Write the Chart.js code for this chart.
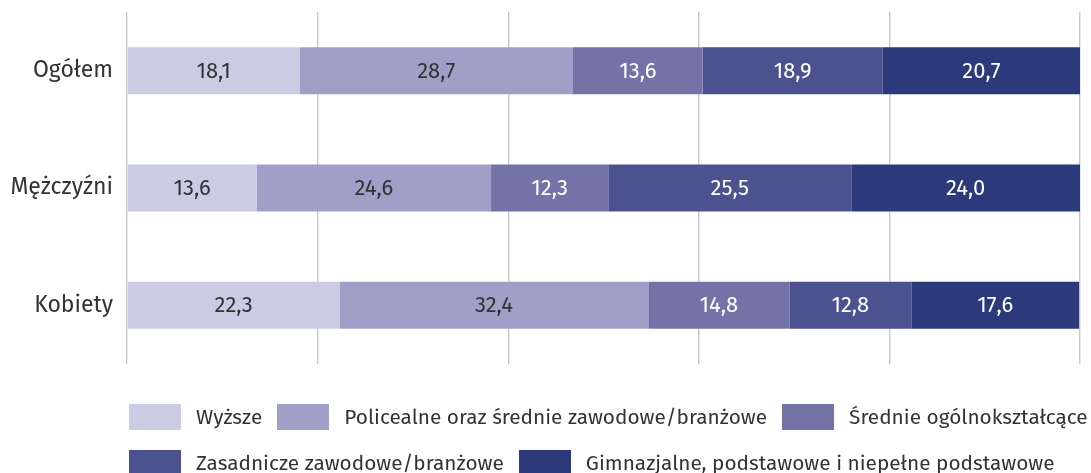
<!DOCTYPE html>
<html>
<head>
<meta charset="utf-8">
<script src="https://cdn.jsdelivr.net/npm/chart.js@4/dist/chart.umd.min.js"></script>
<style>
  html, body { margin: 0; padding: 0; background: #fff; overflow: hidden; }
  #wrap { position: relative; width: 1091px; height: 473px; }
  #legend { position: absolute; left: 129px; top: 404px; font-family: 'Fira Sans', 'Open Sans', sans-serif; font-size: 20.8px; color: #333; }
  .row { display: flex; align-items: center; height: 26px; margin-bottom: 20px; white-space: nowrap; }
  .item { display: flex; align-items: center; margin-right: 15px; }
  .box { width: 52px; height: 26px; margin-right: 15px; }
</style>
</head>
<body>
<div id="wrap">
  <canvas id="c" width="1091" height="473"></canvas>
  <div id="legend"></div>
</div>
<script>
const categories = ['Ogółem', 'Mężczyźni', 'Kobiety'];
const seriesNames = [
  'Wyższe',
  'Policealne oraz średnie zawodowe/branżowe',
  'Średnie ogólnokształcące',
  'Zasadnicze zawodowe/branżowe',
  'Gimnazjalne, podstawowe i niepełne podstawowe'
];
const wyzsze = [18.1, 13.6, 22.3];
const policealne = [28.7, 24.6, 32.4];
const srednie = [13.6, 12.3, 14.8];
const zasadnicze = [18.9, 25.5, 12.8];
const gimnazjalne = [20.7, 24.0, 17.6];
const seriesValues = [wyzsze, policealne, srednie, zasadnicze, gimnazjalne];
const xTicks = [0, 20, 40, 60, 80, 100];

const colors = ['#cbcbe3', '#a09fc7', '#7473a8', '#4c518f', '#2c397b'];
const labelColors = ['#333333', '#333333', '#ffffff', '#ffffff', '#ffffff'];
const FONT = "'Fira Sans', 'Open Sans', sans-serif";

const datasets = seriesNames.map((name, i) => ({
  label: name,
  data: seriesValues[i],
  backgroundColor: colors[i],
  borderWidth: 0,
  barPercentage: 0.4,
  categoryPercentage: 1.0
}));

const valueLabels = {
  id: 'valueLabels',
  afterDatasetsDraw(chart) {
    const ctx = chart.ctx;
    ctx.save();
    ctx.font = '22px ' + FONT;
    ctx.textAlign = 'center';
    ctx.textBaseline = 'middle';
    chart.data.datasets.forEach((ds, di) => {
      const meta = chart.getDatasetMeta(di);
      meta.data.forEach((el, i) => {
        const v = ds.data[i];
        const x = (el.x + el.base) / 2;
        ctx.fillStyle = labelColors[di];
        ctx.fillText(v.toFixed(1).replace('.', ','), x, el.y + 1);
      });
    });
    ctx.restore();
  }
};

const chart = new Chart(document.getElementById('c'), {
  type: 'bar',
  data: { labels: categories, datasets },
  options: {
    indexAxis: 'y',
    responsive: false,
    animation: false,
    layout: { padding: { top: 12, right: 11, bottom: 109, left: 0 } },
    plugins: { legend: { display: false }, tooltip: { enabled: false } },
    scales: {
      x: {
        stacked: true,
        min: 0, max: 100,
        afterBuildTicks(scale) { scale.ticks = xTicks.map(v => ({ value: v })); },
        afterFit(scale) { scale.height = 0; scale.paddingLeft = 0; scale.paddingRight = 0; },
        ticks: { display: false },
        grid: { color: '#c8c8c8', lineWidth: 1.4, drawTicks: false },
        border: { display: false }
      },
      y: {
        stacked: true,
        afterFit(scale) { scale.width = 127; scale.paddingTop = 0; scale.paddingBottom = 0; },
        grid: { display: false, drawTicks: false },
        border: { display: false },
        ticks: { color: '#333333', font: { family: FONT, size: 23 }, padding: 14 }
      }
    }
  },
  plugins: [valueLabels]
});

// legend built from the chart's datasets
const legendRows = [[0, 1, 2], [3, 4]];
const legendEl = document.getElementById('legend');
legendRows.forEach(row => {
  const r = document.createElement('div');
  r.className = 'row';
  row.forEach(i => {
    const ds = chart.data.datasets[i];
    const it = document.createElement('div');
    it.className = 'item';
    const b = document.createElement('span');
    b.className = 'box';
    b.style.background = ds.backgroundColor;
    const t = document.createElement('span');
    t.textContent = ds.label;
    it.appendChild(b); it.appendChild(t);
    r.appendChild(it);
  });
  legendEl.appendChild(r);
});
</script>
</body>
</html>
